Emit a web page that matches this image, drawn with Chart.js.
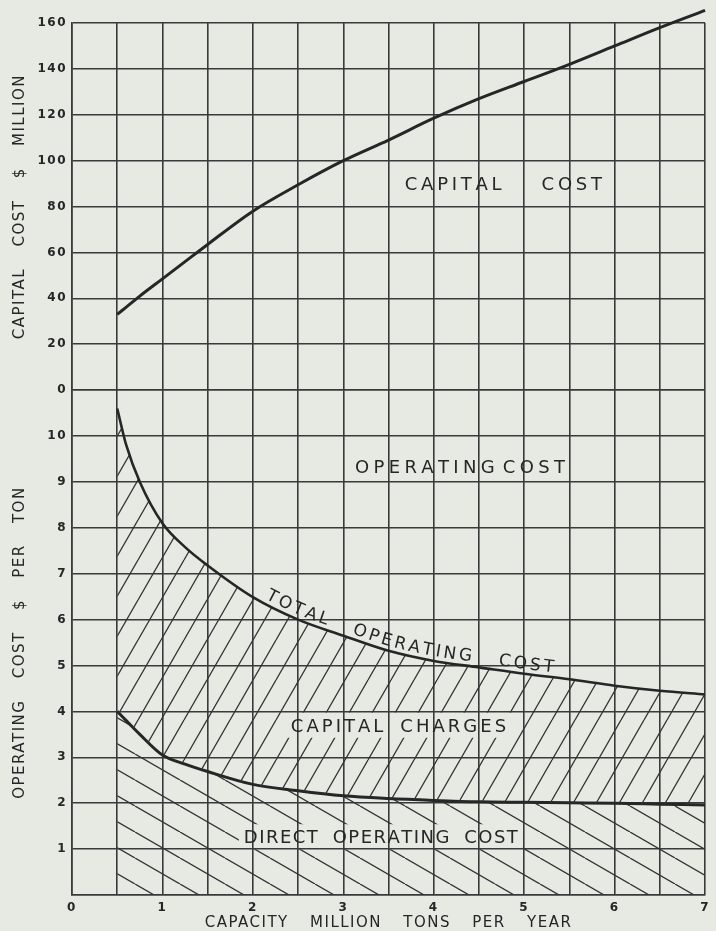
<!DOCTYPE html>
<html>
<head>
<meta charset="utf-8">
<script src="https://cdn.jsdelivr.net/npm/chart.js@4.4.1/dist/chart.umd.min.js"></script>
<style>
  html, body { margin: 0; padding: 0; background: #e7e9e3; }
  #wrap { width: 716px; height: 931px; position: relative; }
</style>
</head>
<body>
<div id="wrap"><canvas id="chart"></canvas></div>
<script>
// Plant capacity, million tons per year
const capacity = [0.5, 0.6, 0.75, 1, 1.25, 1.5, 2, 2.5, 3, 3.5, 4, 4.5, 5, 5.5, 6, 6.5, 7];
// Capital cost, $ million
const capitalCost = [33, 36.2, 41, 48.5, 56, 63.5, 78, 89.5, 100, 109, 118.5, 127, 134.5, 142, 150, 158, 165.5];
// Total operating cost, $ per ton
const totalOperatingCost = [10.6, 9.8, 9.0, 8.1, 7.58, 7.18, 6.49, 6.0, 5.65, 5.32, 5.1, 4.96, 4.82, 4.7, 4.56, 4.45, 4.37];
// Direct operating cost, $ per ton
const directOperatingCost = [4.0, 3.8, 3.5, 3.05, 2.85, 2.69, 2.41, 2.27, 2.16, 2.1, 2.06, 2.03, 2.02, 2.01, 2.0, 1.98, 1.96];

// Axis tick labels
const capacityTickLabels = ['0', '1', '2', '3', '4', '5', '6', '7'];
const capitalTickLabels = ['0', '20', '40', '60', '80', '100', '120', '140', '160'];
const operatingTickLabels = ['', '1', '2', '3', '4', '5', '6', '7', '8', '9', '10', ''];

const PAPER = '#e7e9e3';
const INK = '#262626';
const GRID = '#3a3a3a';
const HATCH = '#333333';
const FONT = "'DejaVu Sans', sans-serif";
const LABEL_SIZE = 18;

const canvas = document.getElementById('chart');
const baseCtx = canvas.getContext('2d');

// Repeating tile of diagonal strokes for the shaded bands
function makeHatch(w, h, rising) {
  const tile = document.createElement('canvas');
  tile.width = w; tile.height = h;
  const g = tile.getContext('2d');
  g.strokeStyle = HATCH;
  g.lineWidth = 1.3;
  g.beginPath();
  for (let k = -1; k <= 1; k++) {
    if (rising) { g.moveTo(k * w, h); g.lineTo((k + 1) * w, 0); }
    else { g.moveTo(k * w, 0); g.lineTo((k + 1) * w, h); }
  }
  g.stroke();
  return baseCtx.createPattern(tile, 'repeat');
}
const risingHatch = makeHatch(23, 40, true);
const fallingHatch = makeHatch(45, 26, false);

// Region captions: horizontal extent in capacity units, height on the given axis
const areaLabels = [
  { text: 'CAPITAL COST', scale: 'yCap', from: 3.68, to: 5.86, y: 90.3, gap: 40 },
  { text: 'OPERATING COST', scale: 'yOp', from: 3.13, to: 5.45, y: 9.34, gap: 8 },
  { text: 'CAPITAL CHARGES', scale: 'yOp', from: 2.42, to: 4.80, y: 3.70, gap: 17 },
  { text: 'DIRECT OPERATING COST', scale: 'yOp', from: 1.90, to: 4.93, y: 1.27, gap: 15 }
];
// Caption written along the total operating cost curve
const curveLabel = { text: 'TOTAL OPERATING COST', datasetIndex: 1, from: 2.11, lift: 5, spacing: 3.1, gap: 27 };

function setTextSpacing(c, letter, word) {
  if ('letterSpacing' in c) { c.letterSpacing = letter + 'px'; c.wordSpacing = word + 'px'; }
}

function layoutAreaLabel(c, chart, lab) {
  const words = lab.text.split(' ');
  const x0 = chart.scales.x.getPixelForValue(lab.from);
  const x1 = chart.scales.x.getPixelForValue(lab.to);
  const yc = chart.scales[lab.scale].getPixelForValue(lab.y);
  let glyphs = 0, inner = 0;
  words.forEach(w => {
    for (const ch of w) glyphs += c.measureText(ch).width;
    inner += w.length - 1;
  });
  const spacing = (x1 - x0 - glyphs - lab.gap * (words.length - 1)) / inner;
  return { x0, x1, yc, words, spacing };
}

// Dense polyline following the drawn (monotone cubic) line
function curvePoints(meta) {
  const pts = meta.data;
  const out = [];
  for (let i = 0; i < pts.length - 1; i++) {
    const a = pts[i], b = pts[i + 1];
    const c1x = a.cp2x !== undefined ? a.cp2x : a.x, c1y = a.cp2y !== undefined ? a.cp2y : a.y;
    const c2x = b.cp1x !== undefined ? b.cp1x : b.x, c2y = b.cp1y !== undefined ? b.cp1y : b.y;
    for (let k = 0; k < 24; k++) {
      const t = k / 24, u = 1 - t;
      out.push({
        x: u * u * u * a.x + 3 * u * u * t * c1x + 3 * u * t * t * c2x + t * t * t * b.x,
        y: u * u * u * a.y + 3 * u * u * t * c1y + 3 * u * t * t * c2y + t * t * t * b.y
      });
    }
  }
  const last = pts[pts.length - 1];
  out.push({ x: last.x, y: last.y });
  let s = 0;
  out[0].s = 0;
  for (let i = 1; i < out.length; i++) {
    s += Math.hypot(out[i].x - out[i - 1].x, out[i].y - out[i - 1].y);
    out[i].s = s;
  }
  return out;
}
function pointAtArc(path, s) {
  let i = 1;
  while (i < path.length - 1 && path[i].s < s) i++;
  const a = path[i - 1], b = path[i];
  const t = (s - a.s) / ((b.s - a.s) || 1);
  return { x: a.x + (b.x - a.x) * t, y: a.y + (b.y - a.y) * t };
}
function arcAtX(path, x) {
  for (let i = 1; i < path.length; i++) {
    if (path[i].x >= x) {
      const a = path[i - 1], b = path[i];
      const t = (x - a.x) / ((b.x - a.x) || 1);
      return a.s + (b.s - a.s) * t;
    }
  }
  return path[path.length - 1].s;
}

const AXIS_LETTER = 1.5, AXIS_WORD = 15;

const paperPlugin = {
  id: 'paper',
  beforeLayout(chart) { setTextSpacing(chart.ctx, AXIS_LETTER, AXIS_WORD); },
  beforeDraw(chart) {
    const c = chart.ctx;
    c.save();
    c.fillStyle = PAPER;
    c.fillRect(0, 0, chart.width, chart.height);
    c.restore();
    setTextSpacing(c, AXIS_LETTER, AXIS_WORD);
  }
};

const captionPlugin = {
  id: 'captions',
  beforeDatasetsDraw(chart) {
    // keep the hatching clear of the region captions
    const c = chart.ctx;
    c.save();
    setTextSpacing(c, 0, 0);
    c.font = `${LABEL_SIZE}px ${FONT}`;
    const cap = LABEL_SIZE * 0.73;
    const boxes = areaLabels.map(l => layoutAreaLabel(c, chart, l));
    c.beginPath();
    c.rect(0, 0, chart.width, chart.height);
    boxes.forEach(b => c.rect(b.x0 - 5, b.yc - cap / 2 - 6, b.x1 - b.x0 + 10, cap + 12));
    c.clip('evenodd');
  },
  afterDatasetsDraw(chart) {
    const c = chart.ctx;
    c.restore();
    c.save();
    setTextSpacing(c, 0, 0);
    c.font = `${LABEL_SIZE}px ${FONT}`;
    c.fillStyle = INK;
    c.textBaseline = 'alphabetic';
    c.textAlign = 'left';
    const cap = LABEL_SIZE * 0.73;
    areaLabels.forEach(lab => {
      const L = layoutAreaLabel(c, chart, lab);
      let x = L.x0;
      const yb = L.yc + cap / 2;
      L.words.forEach(w => {
        for (let i = 0; i < w.length; i++) {
          c.fillText(w[i], x, yb);
          x += c.measureText(w[i]).width + (i < w.length - 1 ? L.spacing : 0);
        }
        x += lab.gap;
      });
    });

    // caption following the total operating cost curve
    c.font = `17px ${FONT}`;
    const meta = chart.getDatasetMeta(curveLabel.datasetIndex);
    const path = curvePoints(meta);
    let s = arcAtX(path, chart.scales.x.getPixelForValue(curveLabel.from));
    c.textAlign = 'center';
    curveLabel.text.split(' ').forEach(w => {
      for (let i = 0; i < w.length; i++) {
        const cw = c.measureText(w[i]).width;
        const mid = s + cw / 2;
        const p = pointAtArc(path, mid);
        const p0 = pointAtArc(path, mid - 6), p1 = pointAtArc(path, mid + 6);
        const ang = Math.atan2(p1.y - p0.y, p1.x - p0.x);
        c.save();
        c.translate(p.x + Math.sin(ang) * curveLabel.lift, p.y - Math.cos(ang) * curveLabel.lift);
        c.rotate(ang);
        c.fillText(w[i], 0, 0);
        c.restore();
        s += cw + (i < w.length - 1 ? curveLabel.spacing : 0);
      }
      s += curveLabel.gap;
    });
    c.restore();
  }
};

const lineStyle = {
  borderColor: INK,
  borderWidth: 3,
  pointRadius: 0,
  cubicInterpolationMode: 'monotone'
};

const tickFont = { family: FONT, size: 12, weight: 'bold' };
const titleFont = { family: FONT, size: 15, lineHeight: 1 };

new Chart(canvas, {
  type: 'line',
  data: {
    datasets: [
      Object.assign({
        label: 'Capital cost',
        yAxisID: 'yCap',
        data: capacity.map((x, i) => ({ x, y: capitalCost[i] })),
        fill: false,
        clip: false
      }, lineStyle),
      Object.assign({
        label: 'Total operating cost',
        yAxisID: 'yOp',
        data: capacity.map((x, i) => ({ x, y: totalOperatingCost[i] })),
        fill: '+1',
        backgroundColor: risingHatch
      }, lineStyle, { borderWidth: 2.6 }),
      Object.assign({
        label: 'Direct operating cost',
        yAxisID: 'yOp',
        data: capacity.map((x, i) => ({ x, y: directOperatingCost[i] })),
        fill: 'origin',
        backgroundColor: fallingHatch
      }, lineStyle)
    ]
  },
  options: {
    responsive: true,
    maintainAspectRatio: false,
    animation: false,
    events: [],
    layout: { padding: { top: 23, right: 5, left: 0, bottom: 0 } },
    plugins: {
      legend: { display: false },
      tooltip: { enabled: false }
    },
    scales: {
      x: {
        type: 'linear',
        min: 0, max: 7,
        ticks: {
          stepSize: 0.5, autoSkip: false, maxRotation: 0, padding: 6,
          color: INK, font: tickFont,
          callback: v => Number.isInteger(v) ? capacityTickLabels[v] : ''
        },
        grid: { color: GRID, lineWidth: 1.6, drawTicks: false },
        border: { display: true, color: GRID, width: 1.6 },
        title: {
          display: true, text: 'CAPACITY MILLION TONS PER YEAR',
          color: INK, font: titleFont, padding: { top: 0, bottom: 0 }
        },
        afterFit: s => { s.height = 36; }
      },
      yOp: {
        type: 'linear',
        position: 'left',
        stack: 'cost',
        stackWeight: 11,
        min: 0, max: 11,
        ticks: {
          stepSize: 1, padding: 5, color: INK, font: tickFont,
          callback: (v, i) => operatingTickLabels[i]
        },
        grid: { color: GRID, lineWidth: 1.6, drawTicks: false },
        border: { display: true, color: GRID, width: 1.6 },
        title: {
          display: true, text: 'OPERATING COST $ PER TON',
          color: INK, font: titleFont, padding: { top: 13, bottom: 0 }
        },
        afterFit: s => { s.width = 72; }
      },
      yCap: {
        type: 'linear',
        position: 'left',
        stack: 'cost',
        stackWeight: 8,
        min: 0, max: 160,
        ticks: {
          stepSize: 20, padding: 5, color: INK, font: tickFont,
          callback: (v, i) => capitalTickLabels[i]
        },
        grid: { color: GRID, lineWidth: 1.6, drawTicks: false },
        border: { display: true, color: GRID, width: 1.6 },
        title: {
          display: true, text: 'CAPITAL COST $ MILLION',
          color: INK, font: titleFont, padding: { top: 13, bottom: 0 }
        },
        afterFit: s => { s.width = 72; }
      }
    }
  },
  plugins: [paperPlugin, captionPlugin]
});
</script>
</body>
</html>
